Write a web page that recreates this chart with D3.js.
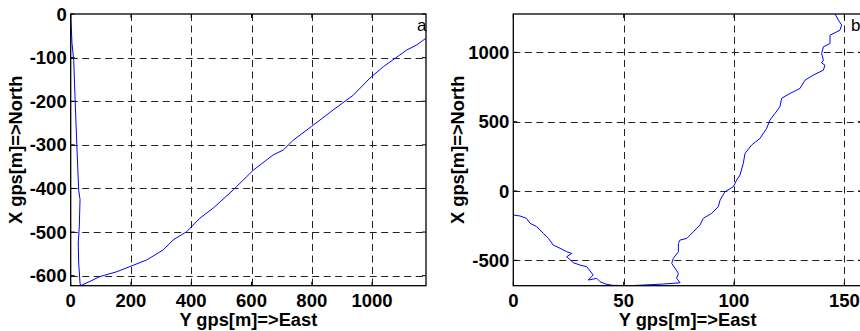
<!DOCTYPE html>
<html>
<head>
<meta charset="utf-8">
<script src="https://cdn.jsdelivr.net/npm/d3@7"></script>
<style>
  html, body { margin: 0; padding: 0; background: #fff; }
  svg { display: block; font-family: "Liberation Sans", Arial, Helvetica, sans-serif; }
</style>
</head>
<body>
<div id="chart"></div>
<script>
// track a: [east, north] in metres
const trackA = [
  [0, 0], [4.3, -67], [10, -106], [15, -204], [21, -312], [26.5, -404], [31, -425],
  [28.5, -488], [25, -525], [26.5, -571], [31, -617], [33, -623],
  [64, -613], [97, -602], [153, -591], [197, -579], [252, -564], [307, -541],
  [340, -518], [385, -499], [429, -468], [473, -445], [540, -403], [606, -358],
  [672, -323], [705, -312], [739, -289], [799, -258], [871, -220], [938, -186],
  [993, -147], [1037, -121], [1092, -94], [1114, -83], [1148, -71], [1178, -56]
];

// track b: [east, north] in metres
const trackB = [
  [0, -173], [3, -180], [6, -197], [7.6, -233], [10.6, -257], [13.6, -305], [15.9, -341],
  [18.1, -390], [21.2, -413], [24.2, -438], [26.5, -450], [24.2, -474], [27.2, -517],
  [30.2, -534], [33.3, -546], [36.2, -606], [34, -642], [37.8, -630], [39.3, -654],
  [42, -672], [45, -680], [53, -683], [68, -671], [75.6, -662], [74, -630], [74.8, -594],
  [73.3, -558], [71.8, -522], [72.5, -486], [74.8, -438], [74.8, -378], [75.5, -354],
  [78.6, -342], [81.6, -294], [84.6, -245], [86.1, -197], [89.9, -161], [92.9, -113],
  [93.7, -65], [95.9, -5], [99.7, 31], [101.2, 79], [102.7, 115], [104.2, 199],
  [105, 271], [108, 332], [111.8, 380], [114.8, 452], [116.3, 512], [118.6, 560],
  [120.8, 608], [121.6, 669], [125.4, 704], [129.9, 740], [132.2, 800], [135.9, 836],
  [140.5, 872], [141.2, 908], [139.7, 924], [140.5, 944], [139.7, 992], [140.5, 1040],
  [143.5, 1064], [143.5, 1124], [148, 1160], [148.8, 1197], [147.3, 1233], [145.8, 1277]
];

const ticksAx = [0, 200, 400, 600, 800, 1000];
const ticksAy = [0, -100, -200, -300, -400, -500, -600];
const ticksBx = [0, 50, 100, 150];
const ticksBy = [-500, 0, 500, 1000];

const xLabel = 'Y gps[m]=>East';
const yLabel = 'X gps[m]=>North';

const W = 860, H = 331;
const svg = d3.select('#chart').append('svg').attr('width', W).attr('height', H);
svg.append('rect').attr('width', W).attr('height', H).attr('fill', '#fff');

const panels = [
  { id: 'a', track: trackA, xd: [0, 1179], yd: [-623, 0], xr: [70.7, 426], tx: ticksAx, ty: ticksAy, letterX: 417 },
  { id: 'b', track: trackB, xd: [0, 158], yd: [-683, 1277], xr: [513.3, 862], tx: ticksBx, ty: ticksBy, letterX: 851 }
];
const plotTop = 14, plotBottom = 285.7;

panels.forEach(p => {
  const x = d3.scaleLinear().domain(p.xd).range(p.xr);
  const y = d3.scaleLinear().domain(p.yd).range([plotBottom, plotTop]);
  const g = svg.append('g');
  const [x0, x1] = p.xr;

  // dashed grid
  g.selectAll('.gx').data(p.tx.filter(v => v > p.xd[0] && v < p.xd[1])).enter().append('line')
    .attr('x1', d => Math.round(x(d)) + 0.5).attr('x2', d => Math.round(x(d)) + 0.5)
    .attr('y1', plotTop).attr('y2', plotBottom)
    .attr('stroke', '#222').attr('stroke-width', 1).attr('stroke-dasharray', '7,4.5');
  g.selectAll('.gy').data(p.ty.filter(v => v > p.yd[0] && v < p.yd[1])).enter().append('line')
    .attr('y1', d => Math.round(y(d)) + 0.5).attr('y2', d => Math.round(y(d)) + 0.5)
    .attr('x1', x0).attr('x2', x1)
    .attr('stroke', '#222').attr('stroke-width', 1).attr('stroke-dasharray', '7,4.5');

  // inner ticks on all sides
  const tl = 4;
  p.tx.forEach(v => {
    g.append('line').attr('x1', x(v)).attr('x2', x(v)).attr('y1', plotBottom).attr('y2', plotBottom - tl).attr('stroke', '#000');
    g.append('line').attr('x1', x(v)).attr('x2', x(v)).attr('y1', plotTop).attr('y2', plotTop + tl).attr('stroke', '#000');
  });
  p.ty.forEach(v => {
    g.append('line').attr('y1', y(v)).attr('y2', y(v)).attr('x1', x0).attr('x2', x0 + tl).attr('stroke', '#000');
    g.append('line').attr('y1', y(v)).attr('y2', y(v)).attr('x1', x1).attr('x2', x1 - tl).attr('stroke', '#000');
  });

  // track
  const clipId = 'clip-' + p.id;
  svg.append('clipPath').attr('id', clipId).append('rect')
    .attr('x', x0).attr('y', plotTop).attr('width', x1 - x0).attr('height', plotBottom - plotTop);
  g.append('path')
    .datum(p.track)
    .attr('clip-path', `url(#${clipId})`)
    .attr('d', d3.line().x(d => x(d[0])).y(d => y(d[1])))
    .attr('fill', 'none').attr('stroke', '#0000ff').attr('stroke-width', 1);

  // frame
  g.append('rect').attr('x', x0).attr('y', plotTop).attr('width', x1 - x0).attr('height', plotBottom - plotTop)
    .attr('fill', 'none').attr('stroke', '#000').attr('stroke-width', 1.3);

  // tick labels
  g.selectAll('.lx').data(p.tx).enter().append('text')
    .attr('x', d => x(d)).attr('y', 306.5).attr('text-anchor', 'middle')
    .attr('font-size', 18.5).attr('font-weight', 'bold').text(d => d);
  g.selectAll('.ly').data(p.ty).enter().append('text')
    .attr('x', x0 - 4).attr('y', d => y(d)).attr('dy', '0.36em').attr('text-anchor', 'end')
    .attr('font-size', 18.5).attr('font-weight', 'bold').text(d => d);

  // axis titles
  g.append('text').attr('x', (x0 + x1) / 2).attr('y', 326).attr('text-anchor', 'middle')
    .attr('font-size', 18.3).attr('font-weight', 'bold').text(xLabel);
  g.append('text').attr('transform', `translate(${x0 - 49},${(plotTop + plotBottom) / 2}) rotate(-90)`)
    .attr('text-anchor', 'middle').attr('font-size', 18.3).attr('font-weight', 'bold').text(yLabel);

  // panel letter
  g.append('text').attr('x', p.letterX).attr('y', 31).attr('font-size', 17).text(p.id);
});
</script>
</body>
</html>
